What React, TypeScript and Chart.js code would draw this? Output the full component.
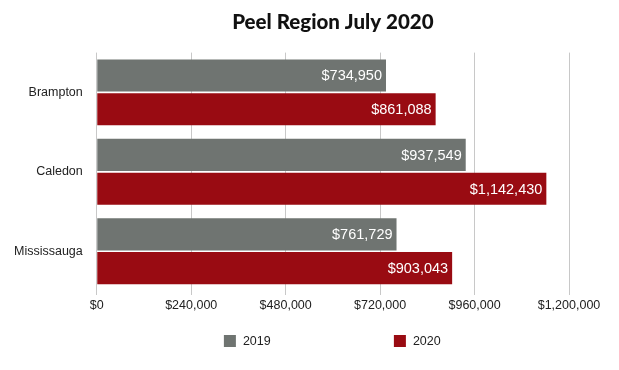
import React, { useEffect, useRef } from "react";
import { Chart, registerables } from "chart.js";

Chart.register(...registerables);

const categories = ["Brampton", "Caledon", "Mississauga"];
const seriesNames = ["2019", "2020"];
const values2019 = [734950, 937549, 761729];
const values2020 = [861088, 1142430, 903043];
const tickValues = [0, 240000, 480000, 720000, 960000, 1200000];
const titleText = "Peel Region July 2020";

const GRAY = "#6f7471";
const RED = "#990b12";

const fmt = (v: number) => "$" + v.toLocaleString("en-US");

const valueLabels = {
  id: "valueLabels",
  afterDatasetsDraw(chart: any) {
    const ctx = chart.ctx;
    ctx.save();
    ctx.font = "14.5px 'Liberation Sans', Arial, sans-serif";
    ctx.fillStyle = "#ffffff";
    ctx.textAlign = "right";
    ctx.textBaseline = "middle";
    chart.data.datasets.forEach((ds: any, di: number) => {
      const meta = chart.getDatasetMeta(di);
      meta.data.forEach((bar: any, i: number) => {
        ctx.fillText(fmt(ds.data[i]), bar.x - 4, bar.y + 1);
      });
    });
    ctx.restore();
  },
};

const customLegend = {
  id: "customLegend",
  afterDraw(chart: any) {
    const ctx = chart.ctx;
    const area = chart.chartArea;
    const cx = (area.left + area.right) / 2;
    const y = 341;
    const items = [
      { x: cx - 109, color: GRAY, label: seriesNames[0] },
      { x: cx + 61, color: RED, label: seriesNames[1] },
    ];
    ctx.save();
    ctx.font = "12.5px 'Liberation Sans', Arial, sans-serif";
    ctx.textBaseline = "middle";
    ctx.textAlign = "left";
    items.forEach((it) => {
      ctx.fillStyle = it.color;
      ctx.fillRect(it.x, y - 6, 12, 12);
      ctx.fillStyle = "#222222";
      ctx.fillText(it.label, it.x + 19, y + 0.5);
    });
    ctx.restore();
  },
};

export default function App() {
  const ref = useRef<HTMLCanvasElement | null>(null);
  useEffect(() => {
    document.body.style.margin = "0";
    const canvas = ref.current;
    if (!canvas) return;
    const chart = new Chart(canvas, {
      type: "bar",
      data: {
        labels: categories,
        datasets: [
          { label: seriesNames[0], data: values2019, backgroundColor: GRAY, categoryPercentage: 0.85, barPercentage: 0.95 },
          { label: seriesNames[1], data: values2020, backgroundColor: RED, categoryPercentage: 0.85, barPercentage: 0.95 },
        ],
      },
      options: {
        indexAxis: "y",
        animation: false,
        responsive: false,
        maintainAspectRatio: false,
        layout: { padding: { left: 0, right: 50, top: 0, bottom: 54 } },
        plugins: {
          legend: { display: false },
          tooltip: { enabled: false },
          title: {
            display: true,
            text: titleText,
            fullSize: false,
            color: "#111111",
            font: { family: "Lato, 'Open Sans', sans-serif", size: 20.5, weight: "900" },
            padding: { top: 10, bottom: 18 },
          },
        },
        scales: {
          x: {
            type: "linear",
            min: 0,
            max: 1200000,
            afterBuildTicks: (axis: any) => {
              axis.ticks = tickValues.map((v) => ({ value: v }));
            },
            ticks: {
              color: "#222222",
              font: { family: "'Liberation Sans', Arial, sans-serif", size: 12.5 },
              padding: 3,
              callback: (v: any) => fmt(Number(v)),
            },
            grid: { color: "#c8c8c8", lineWidth: 1, drawTicks: true, tickLength: 4 },
            border: { display: false },
          },
          y: {
            type: "category",
            ticks: {
              color: "#222222",
              font: { family: "'Liberation Sans', Arial, sans-serif", size: 12.5 },
              padding: 14,
            },
            grid: { display: false, drawTicks: false },
            border: { display: false },
          },
        },
      },
      plugins: [valueLabels, customLegend],
    } as any);
    return () => chart.destroy();
  }, []);
  return (
    <div style={{ position: "absolute", left: 0, top: 0, width: 619, height: 370, background: "#fff" }}>
      <canvas ref={ref} width={619} height={370} style={{ width: 619, height: 370 }} />
    </div>
  );
}
